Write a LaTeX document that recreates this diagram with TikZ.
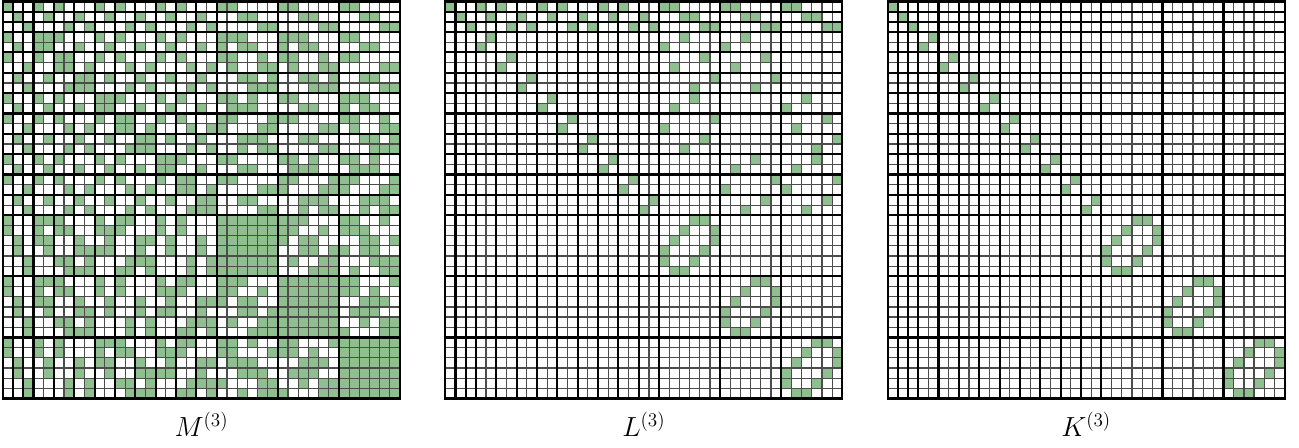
\documentclass[tikz,border=0pt]{standalone}
\usepackage{tikz}
\definecolor{cellgreen}{RGB}{143,190,143}
\tikzset{
  cellfill/.style={fill=cellgreen},
  thinrule/.style={draw=black!70, line width=0.9pt},
  thickrule/.style={draw=black, line width=1.6pt, line cap=rect},
  lab/.style={font=\fontsize{20}{24}\selectfont, inner sep=0pt}
}
\def\gcell{10.18}
\newcommand\putcell[2]{\fill[cellfill] ({(#2)*\gcell},{(#1)*\gcell}) rectangle ++(\gcell,\gcell);}
\newcommand\gridlines{%
  \foreach \k in {0,...,39}{%
    \draw[thinrule] ({\k*\gcell},0) -- ({\k*\gcell},{39*\gcell});
    \draw[thinrule] (0,{\k*\gcell}) -- ({39*\gcell},{\k*\gcell});
  }
  \foreach \k in {0,1,2,3,5,7,9,11,13,15,17,19,21,27,33,39}{%
    \draw[thickrule] ({\k*\gcell},0) -- ({\k*\gcell},{39*\gcell});
    \draw[thickrule] (0,{\k*\gcell}) -- ({39*\gcell},{\k*\gcell});
  }
}
\newcommand\blockdiag{%
  \foreach \r in {0,1,2}{\putcell{\r}{\r}}
  \foreach \p in {3,5,...,19}{\putcell{\p}{\p+1}\putcell{\p+1}{\p}}
  \foreach \b in {21,27,33}{%
    \foreach \u/\v in {0/3,0/4,1/2,1/5,2/1,2/5,3/0,3/4,4/0,4/3,5/1,5/2}{\putcell{\b+\u}{\b+\v}}}
}
\begin{document}
\begin{tikzpicture}[x=0.75pt,y=-0.75pt]
\useasboundingbox (0,0) rectangle (1299,447);
% ---- M ----
\begin{scope}[shift={(3,1.5)}]
  \foreach \clq in {{0,3,5,9,11,15,17,21,22,27,28,33,34},{1,4,7,10,13,16,19,23,24,29,30,35,36},{2,6,8,12,14,18,20,25,26,31,32,37,38},{3,4,21,23,27,29},{5,6,22,25,28,31},{7,8,24,26,30,32},{9,10,22,24,33,35},{11,12,21,26,34,37},{13,14,23,25,36,38},{15,16,28,30,34,36},{17,18,27,32,33,38},{19,20,29,31,35,37},{21,22,23,24,25,26},{27,28,29,30,31,32},{33,34,35,36,37,38}}{%
    \foreach \i in \clq {\foreach \j in \clq {\putcell{\i}{\j}}}}
  \gridlines
\end{scope}
% ---- L ----
\begin{scope}[shift={(445.3,1.5)}]
  \blockdiag
  \foreach \r/\c in {0/3,0/5,0/9,0/11,0/15,0/17,0/21,0/22,0/27,0/28,0/33,0/34,
    1/4,1/7,1/10,1/13,1/16,1/19,1/23,1/24,1/29,1/30,1/35,1/36,
    2/6,2/8,2/12,2/14,2/18,2/20,2/25,2/26,2/31,2/32,2/37,2/38,
    3/23,3/29,4/21,4/27,5/25,5/31,6/22,6/28,7/26,7/32,8/24,8/30,
    9/24,9/35,10/22,10/33,11/26,11/37,12/21,12/34,13/25,13/38,14/23,14/36,
    15/30,15/36,16/28,16/34,17/32,17/38,18/27,18/33,19/31,19/37,20/29,20/35}{\putcell{\r}{\c}}
  \gridlines
\end{scope}
% ---- K ----
\begin{scope}[shift={(887.6,1.5)}]
  \blockdiag
  \gridlines
\end{scope}
\node[lab] (labM) at (201.5,424) {$M^{(3)}$};
\node[lab] (labL) at (643.8,424) {$L^{(3)}$};
\node[lab] (labK) at (1086.1,424) {$K^{(3)}$};
\end{tikzpicture}
\end{document}
